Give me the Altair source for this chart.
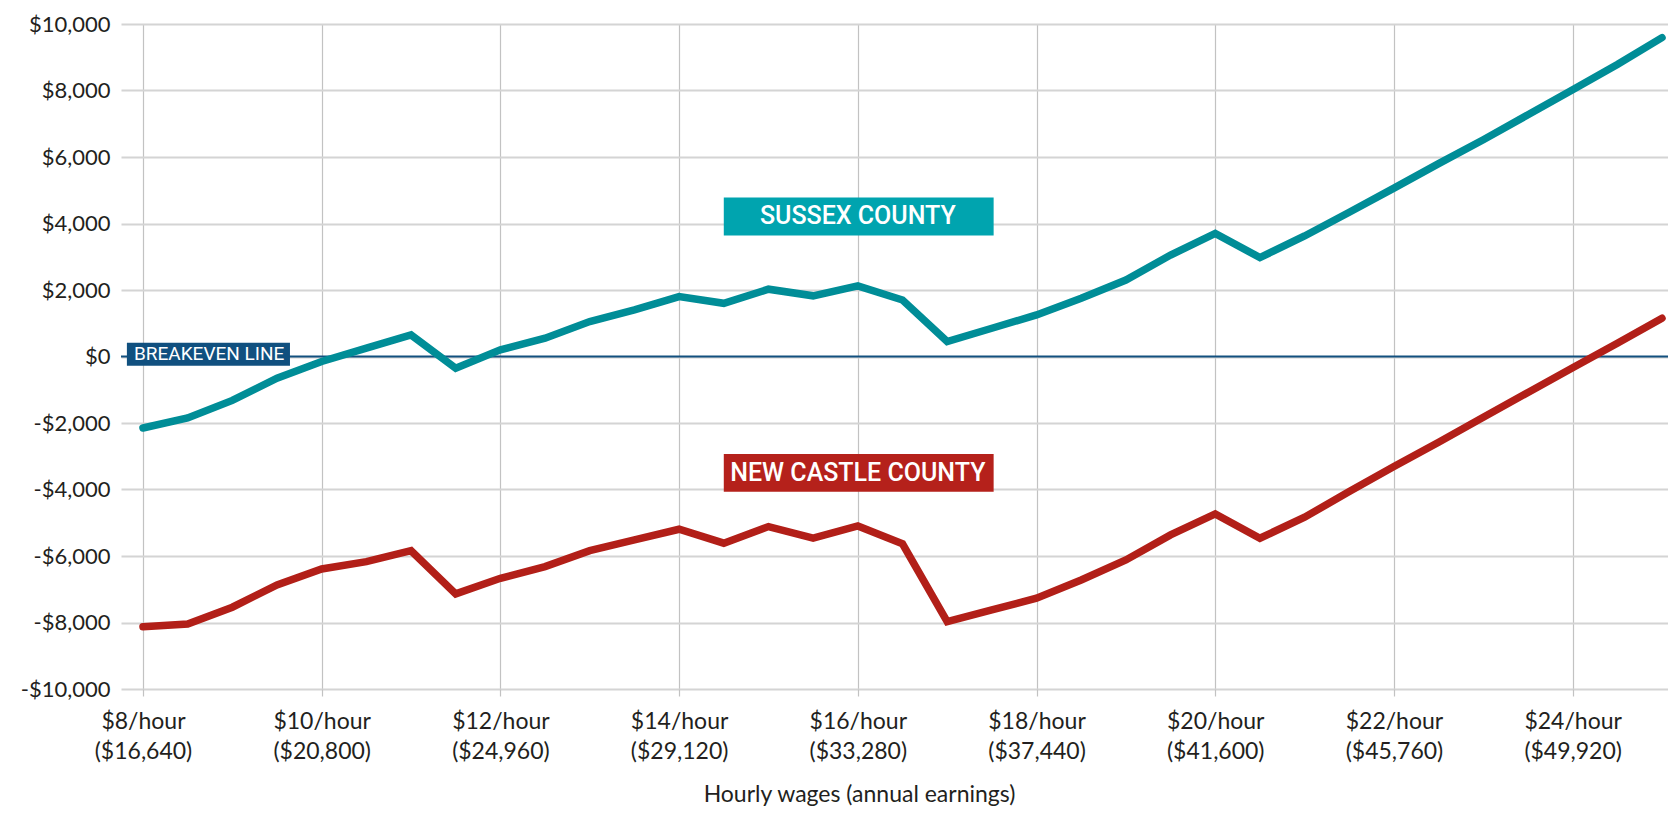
import json
import altair as alt
import pandas as pd

# ---------------- data ----------------
wages = [8, 8.5, 9, 9.5, 10, 10.5, 11, 11.5, 12, 12.5, 13, 13.5, 14, 14.5, 15, 15.5, 16, 16.5,
         17, 17.5, 18, 18.5, 19, 19.5, 20, 20.5, 21, 21.5, 22, 22.5, 23, 23.5, 24, 24.5, 25]

sussex = [-2150, -1850, -1320, -650, -150, 250, 650, -350, 200, 550,
          1050, 1400, 1800, 1600, 2025, 1825, 2125, 1700, 450, 850,
          1250, 1750, 2300, 3050, 3700, 2975, 3625, 4340, 5065, 5800,
          6520, 7270, 8020, 8780, 9590]

new_castle = [-8125, -8045, -7540, -6870, -6390, -6170, -5840, -7140, -6670, -6320,
              -5840, -5515, -5195, -5615, -5115, -5465, -5095, -5635, -7975, -7620,
              -7270, -6720, -6120, -5365, -4735, -5465, -4835, -4060, -3310, -2580,
              -1830, -1080, -340, 400, 1150]

counties = ["Sussex County", "New Castle County"]
line_colors = ["#008D97", "#B21F18"]

x_ticks = [8, 10, 12, 14, 16, 18, 20, 22, 24]
x_tick_hourly = ["$8/hour", "$10/hour", "$12/hour", "$14/hour", "$16/hour",
                 "$18/hour", "$20/hour", "$22/hour", "$24/hour"]
x_tick_annual = ["($16,640)", "($20,800)", "($24,960)", "($29,120)", "($33,280)",
                 "($37,440)", "($41,600)", "($45,760)", "($49,920)"]

y_ticks = [-10000, -8000, -6000, -4000, -2000, 0, 2000, 4000, 6000, 8000, 10000]
y_tick_labels = ["-$10,000", "-$8,000", "-$6,000", "-$4,000", "-$2,000", "$0",
                 "$2,000", "$4,000", "$6,000", "$8,000", "$10,000"]

x_title = "Hourly wages (annual earnings)"

# annotation boxes (in data units)
box_text = ["SUSSEX COUNTY", "NEW CASTLE COUNTY", "BREAKEVEN LINE"]
box_fill = ["#00A4AF", "#B5211B", "#10507F"]
box_x_start = [14.50, 14.50, 7.82]
box_x_end = [17.52, 17.52, 9.645]
box_y_top = [4785, -2930, 411]
box_y_bottom = [3640, -4065, -281]
text_x = [16.0, 16.0, 8.74]
text_y = [4212, -3497, 65]

breakeven_value = [0]

# ---------------- frames ----------------
lines_df = pd.concat([
    pd.DataFrame({"wage": wages, "net": sussex, "county": counties[0]}),
    pd.DataFrame({"wage": wages, "net": new_castle, "county": counties[1]}),
], ignore_index=True)

boxes_df = pd.DataFrame({
    "wage": box_x_start, "wage2": box_x_end,
    "net": box_y_top, "net2": box_y_bottom,
    "fill": box_fill, "label": box_text,
})
county_text_df = pd.DataFrame({"wage": text_x[:2], "net": text_y[:2], "label": box_text[:2]})
break_text_df = pd.DataFrame({"wage": text_x[2:], "net": text_y[2:], "label": box_text[2:]})
rule_df = pd.DataFrame({"net": breakeven_value})

# ---------------- axes ----------------
x_label_expr = "{}[indexof({}, datum.value)]".format(
    json.dumps([[a, b] for a, b in zip(x_tick_hourly, x_tick_annual)]), json.dumps(x_ticks))
y_label_expr = "{}[indexof({}, datum.value)]".format(
    json.dumps(y_tick_labels), json.dumps(y_ticks))

TEXT = "#231f20"
X = alt.X(
    "wage:Q",
    scale=alt.Scale(domain=[7.754, 25.067], nice=False, zero=False),
    axis=alt.Axis(
        values=x_ticks, labelExpr=x_label_expr,
        grid=True, gridColor="#c2c2c2", gridWidth=1.2,
        domain=False, ticks=True, tickSize=7, tickColor="#c2c2c2", tickWidth=1.2,
        labelFont="Lato", labelFontSize=23, labelColor=TEXT, labelLineHeight=30,
        labelBaseline="alphabetic", labelPadding=32, labelAlign="center",
        labelOverlap=False, labelFlush=False,
        title=x_title, titleFont="Lato", titleFontSize=23, titleFontWeight="normal",
        titleColor=TEXT, titleX=738, titleY=112, titleAlign="center",
        titleBaseline="alphabetic",
    ),
)
Y = alt.Y(
    "net:Q",
    scale=alt.Scale(domain=[-10000, 10000], nice=False, zero=False),
    axis=alt.Axis(
        values=y_ticks, labelExpr=y_label_expr,
        grid=True, gridColor="#d4d4d4", gridWidth=2,
        domain=False, ticks=False, labelPadding=11,
        labelFont="Lato", labelFontSize=22, labelColor=TEXT, labelBaseline="middle",
        labelOverlap=False, labelFlush=False, title=None,
    ),
)

rule = alt.Chart(rule_df).mark_rule(color="#12507F", strokeWidth=2).encode(y=Y)

boxes = alt.Chart(boxes_df).mark_rect().encode(
    x=X, x2="wage2:Q", y=Y, y2="net2:Q",
    color=alt.Color("fill:N", scale=None, legend=None),
)

lines = alt.Chart(lines_df).mark_line(strokeWidth=7.5, strokeCap="round", strokeJoin="miter").encode(
    x=X, y=Y,
    color=alt.Color("county:N", scale=alt.Scale(domain=counties, range=line_colors), legend=None),
    detail="county:N",
)

county_text = alt.Chart(county_text_df).mark_text(
    font="Roboto", fontSize=25, fontWeight=500, color="white",
    align="center", baseline="middle",
).encode(x=X, y=Y, text="label:N")

break_text = alt.Chart(break_text_df).mark_text(
    font="Roboto", fontSize=19, fontWeight="normal", color="white",
    align="center", baseline="middle",
).encode(x=X, y=Y, text="label:N")

chart = alt.layer(rule, lines, boxes, county_text, break_text).properties(
    width=1547, height=665,
    autosize=alt.AutoSizeParams(type="none"),
    padding={"left": 113, "top": 16, "right": 0, "bottom": 120},
    background="white",
).configure_view(stroke=None)

chart.save("out.html", embed_options={"renderer": "svg", "actions": False})
